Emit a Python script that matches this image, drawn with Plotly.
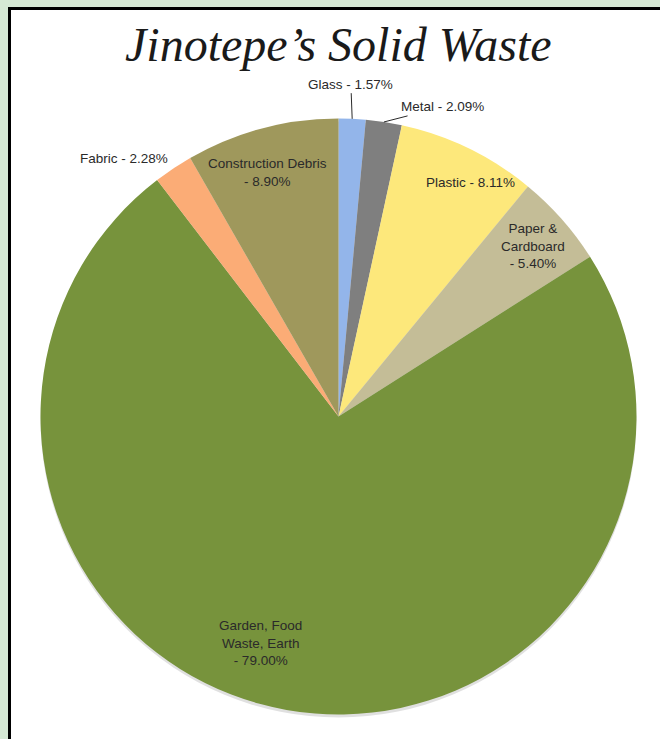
import math
import plotly.graph_objects as go

# ---- data ----
categories = ["Glass", "Metal", "Plastic", "Paper &<br>Cardboard",
              "Garden, Food<br>Waste, Earth", "Fabric", "Construction Debris"]
values = [1.57, 2.09, 8.11, 5.40, 79.00, 2.28, 8.90]
value_labels = ["1.57%", "2.09%", "8.11%", "5.40%", "79.00%", "2.28%", "8.90%"]

# ---- styling ----
colors = ["#93b5ea", "#7f7f7f", "#fde87b", "#c4bd97", "#77933c", "#fbac76", "#9f985c"]
W, H = 660, 739
CX, CY, R = 338.5, 416.5, 298.0   # pie centre / radius in pixels

# label placement: separator between name and value, radial factor, angle nudge (deg)
label_sep = [" - ", " - ", " - ", "<br>- ", "<br>- ", " - ", "<br>- "]
label_mode = ["arrow", "arrow", "in", "in", "in", "out", "in"]
label_rf = [1.116, 1.096, 0.90, 0.868, 0.804, 1.125, 0.854]
label_da = [-0.5, 9.8, 3.5, 0.3, 9.0, -6.0, -1.2]

fig = go.Figure()
fig.add_trace(go.Pie(
    labels=categories, values=values, sort=False, direction="clockwise",
    rotation=0, textinfo="none", hoverinfo="label+percent",
    marker=dict(colors=colors, line=dict(width=0)),
    domain=dict(x=[(CX - R) / W, (CX + R) / W],
                y=[1 - (CY + R) / H, 1 - (CY - R) / H]),
    showlegend=False,
))

def px2paper(x, y):
    return x / W, 1 - y / H

total = sum(values)
cum = 0.0
annotations = []
font = dict(family="Liberation Sans, Arial, sans-serif", size=13.5, color="#2a2a2a")
for i, v in enumerate(values):
    mid = (cum + v / 2) / total * 360.0
    cum += v
    text = categories[i] + label_sep[i] + value_labels[i]
    ang = math.radians(mid + label_da[i])
    tx = CX + label_rf[i] * R * math.sin(ang)
    ty = CY - label_rf[i] * R * math.cos(ang)
    if label_mode[i] == "arrow":
        ma = math.radians(mid)
        ex = CX + R * math.sin(ma)
        ey = CY - R * math.cos(ma)
        x, y = px2paper(ex, ey)
        annotations.append(dict(
            x=x, y=y, xref="paper", yref="paper", text=text, showarrow=True,
            arrowhead=0, arrowwidth=1, arrowcolor="#2a2a2a",
            ax=tx - ex, ay=ty - ey, standoff=0, startstandoff=0,
            font=font, align="center"))
    else:
        x, y = px2paper(tx, ty)
        annotations.append(dict(
            x=x, y=y, xref="paper", yref="paper", text=text, showarrow=False,
            font=font, align="center", xanchor="center", yanchor="middle"))

# title
annotations.append(dict(
    x=0.513, y=1 - 45 / H, xref="paper", yref="paper",
    text="Jinotepe’s Solid Waste", showarrow=False,
    font=dict(family="Liberation Serif, serif", size=48,
              color="#1a1a1a", style="italic"),
    xanchor="center", yanchor="middle"))

shapes = [
    dict(type="rect", xref="paper", yref="paper", layer="below",
         x0=9.5 / W, x1=1.2, y0=-0.2, y1=1 - 8.5 / H,
         fillcolor="white", line=dict(color="black", width=3)),
    dict(type="circle", xref="paper", yref="paper", layer="below",
         x0=(CX - R) / W, x1=(CX + R) / W,
         y0=1 - (CY + R + 3) / H, y1=1 - (CY - R + 3) / H,
         fillcolor="rgba(0,0,0,0.12)", line=dict(width=0)),
]

fig.update_layout(
    width=W, height=H, margin=dict(l=0, r=0, t=0, b=0),
    paper_bgcolor="#d6e9d5", plot_bgcolor="white",
    annotations=annotations, shapes=shapes,
)
fig.write_html("out.html")
